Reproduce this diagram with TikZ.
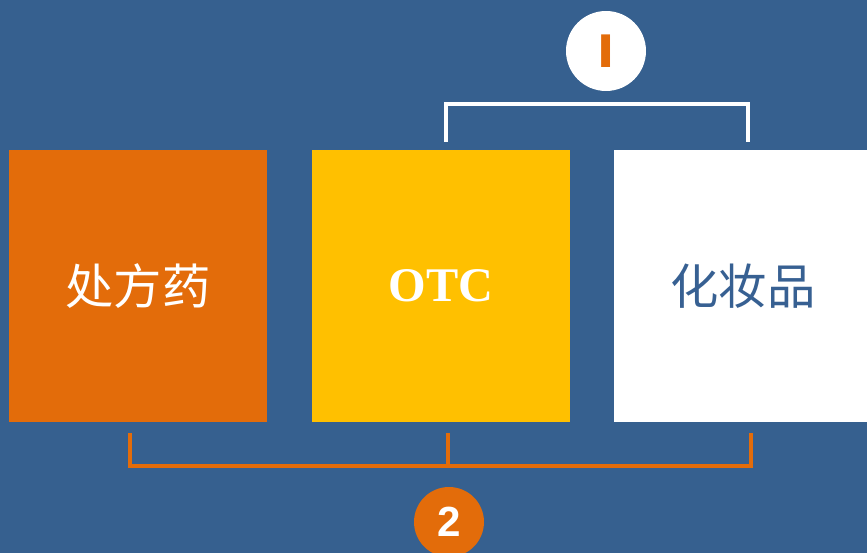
\documentclass[tikz,border=0pt]{standalone}
\usepackage{fontspec}
\setmainfont{Liberation Serif}
\newfontfamily\cjk{Noto Sans CJK SC}
\newfontfamily\numfont{Liberation Sans}
\definecolor{bgblue}{HTML}{36608F}
\definecolor{rxorange}{HTML}{E36C0A}
\definecolor{otcyellow}{HTML}{FFC000}
\definecolor{txtblue}{HTML}{376092}
\tikzset{
  catbox/.style={minimum width=5.16cm, minimum height=5.44cm, inner sep=0pt},
  badge/.style={circle, inner sep=0pt},
  wbrace/.style={white, line width=2.3pt},
  obrace/.style={rxorange, line width=2.3pt}
}

\begin{document}
\begin{tikzpicture}[x=0.02cm,y=-0.02cm]
\clip (0,0) rectangle (867,553);
\fill[bgblue] (0,0) rectangle (867,553);
% the three boxes
\node[catbox,fill=rxorange,text=white,font=\cjk\fontsize{27.5}{30}\selectfont] (rx) at (138,286) {处方药};
\node[catbox,fill=otcyellow,text=white,font=\bfseries\fontsize{27.5}{32}\selectfont] (otc) at (441,286) {OTC};
\node[catbox,fill=white,text=txtblue,font=\cjk\fontsize{27.5}{30}\selectfont] (cosm) at (743,286) {化妆品};
% badges
\node[badge,fill=white,minimum size=1.6cm,text=rxorange,font=\numfont\bfseries\fontsize{27}{30}\selectfont] (one) at (606,51) {\scalebox{1.3}[1]{I}};
\node[badge,fill=rxorange,minimum size=1.4cm,text=white,font=\numfont\bfseries\fontsize{24}{28}\selectfont] (two) at (449,522) {2};
% brackets
\coordinate (t1) at (446,142);
\coordinate (t2) at (748,142);
\coordinate (b1) at (130,433);
\coordinate (b2) at (448,433);
\coordinate (b3) at (751,433);
\draw[wbrace] (t1) -- (t1 |- 0,104) -- (t2 |- 0,104) -- (t2);
\draw[obrace] (b1) -- (b1 |- 0,466) -- (b3 |- 0,466) -- (b3);
\draw[obrace] (b2) -- (b2 |- 0,466);
\end{tikzpicture}
\end{document}
